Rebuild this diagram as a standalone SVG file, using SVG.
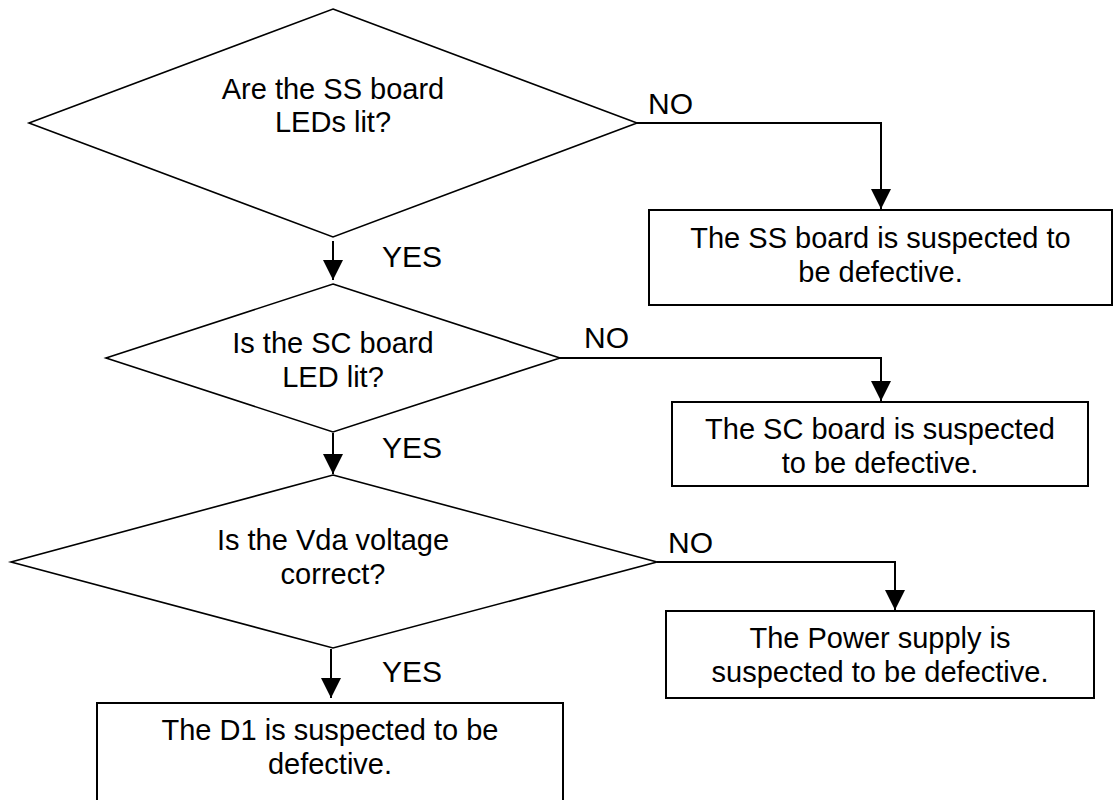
<svg xmlns="http://www.w3.org/2000/svg" width="1114" height="800" viewBox="0 0 1114 800">
<defs>
<style>
.shape{fill:#fff;stroke:#000;stroke-width:1.6}
.box{fill:#fff;stroke:#000;stroke-width:2}
.t{font-family:"Liberation Sans",Arial,sans-serif;font-size:29px;fill:#000;text-anchor:middle}
.lbl{font-family:"Liberation Sans",Arial,sans-serif;font-size:30px;fill:#000}
.c{fill:none;stroke:#000;stroke-width:2}
</style>
<marker id="ah" viewBox="0 0 20 20" refX="20" refY="10" markerWidth="20" markerHeight="20" markerUnits="userSpaceOnUse" orient="auto">
<path d="M0,0 L20,10 L0,20 Z" fill="#000"/>
</marker>
</defs>
<rect width="1114" height="800" fill="#fff"/>
<g id="q1">
<polygon class="shape" points="333,9 637,123 333,237 29,123"/>
<text class="t" x="333" y="99">Are the SS board</text>
<text class="t" x="333" y="132">LEDs lit?</text>
</g>
<g id="ss">
<rect class="box" x="649" y="210" width="463" height="95"/>
<text class="t" x="880.5" y="248">The SS board is suspected to</text>
<text class="t" x="880.5" y="282">be defective.</text>
</g>
<g id="q2">
<polygon class="shape" points="333,284 560,358 333,432 106,358"/>
<text class="t" x="333" y="353">Is the SC board</text>
<text class="t" x="333" y="387">LED lit?</text>
</g>
<g id="sc">
<rect class="box" x="672" y="402" width="416" height="84"/>
<text class="t" x="880" y="439">The SC board is suspected</text>
<text class="t" x="880" y="473">to be defective.</text>
</g>
<g id="q3">
<polygon class="shape" points="333,475 657,562 333,648 11,562"/>
<text class="t" x="333" y="550">Is the Vda voltage</text>
<text class="t" x="333" y="584">correct?</text>
</g>
<g id="ps">
<rect class="box" x="666" y="611" width="428" height="87"/>
<text class="t" x="880" y="648">The Power supply is</text>
<text class="t" x="880" y="682">suspected to be defective.</text>
</g>
<g id="d1">
<rect class="box" x="97" y="703" width="466" height="110"/>
<text class="t" x="330" y="740">The D1 is suspected to be</text>
<text class="t" x="330" y="774">defective.</text>
</g>
<g id="connectors">
<path class="c" d="M637,123 H881 V209" marker-end="url(#ah)"/>
<path class="c" d="M333,241 V280" marker-end="url(#ah)"/>
<path class="c" d="M560,358 H881 V401" marker-end="url(#ah)"/>
<path class="c" d="M333,433 V474" marker-end="url(#ah)"/>
<path class="c" d="M657,562 H895 V610" marker-end="url(#ah)"/>
<path class="c" d="M331,649 V698" marker-end="url(#ah)"/>
<text class="lbl" x="648" y="114">NO</text>
<text class="lbl" x="382" y="267">YES</text>
<text class="lbl" x="584" y="348">NO</text>
<text class="lbl" x="382" y="458">YES</text>
<text class="lbl" x="668" y="553">NO</text>
<text class="lbl" x="382" y="682">YES</text>
</g>
</svg>
